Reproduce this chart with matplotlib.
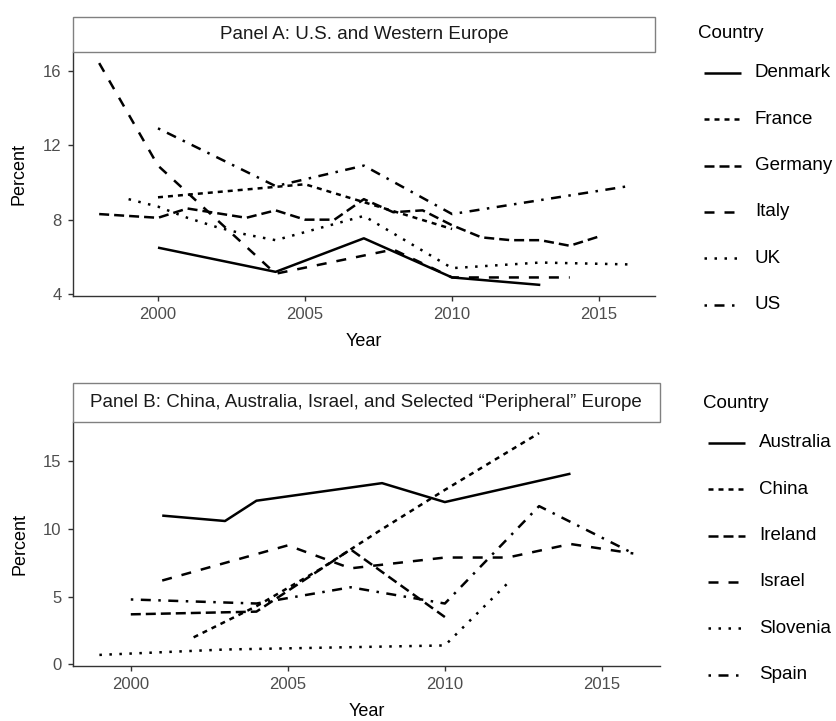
import numpy as np
import matplotlib
matplotlib.use("Agg")
import matplotlib.pyplot as plt
from matplotlib.lines import Line2D
from matplotlib.patches import Rectangle

plt.rcParams["font.family"] = ["Liberation Sans", "DejaVu Sans"]

# Panel A: U.S. and Western Europe
denmark_yr = [2000, 2004, 2007, 2010, 2013]
denmark_val = [6.5, 5.2, 7.0, 4.9, 4.5]
france_yr = [2000, 2005, 2010]
france_val = [9.2, 9.9, 7.5]
germany_yr = [1998, 2000, 2001, 2003, 2004, 2005, 2006, 2007, 2008, 2009, 2010, 2011, 2012, 2013, 2014, 2015]
germany_val = [8.3, 8.1, 8.6, 8.1, 8.5, 8.0, 8.0, 9.1, 8.4, 8.5, 7.7, 7.05, 6.9, 6.9, 6.6, 7.1]
italy_yr = [1998, 2000, 2004, 2008, 2010, 2012, 2014]
italy_val = [16.4, 10.9, 5.1, 6.4, 4.9, 4.9, 4.9]
uk_yr = [1999, 2000, 2001, 2002, 2003, 2004, 2007, 2010, 2013, 2016]
uk_val = [9.1, 8.7, 8.1, 7.6, 7.2, 6.9, 8.2, 5.4, 5.7, 5.6]
us_yr = [2000, 2004, 2007, 2010, 2016]
us_val = [12.9, 9.8, 10.9, 8.3, 9.8]

# Panel B: China, Australia, Israel, and Selected "Peripheral" Europe
australia_yr = [2001, 2003, 2004, 2008, 2010, 2014]
australia_val = [11.0, 10.6, 12.1, 13.4, 12.0, 14.1]
china_yr = [2002, 2004, 2006, 2008, 2010, 2013]
china_val = [2.0, 4.3, 7.0, 10.0, 12.9, 17.1]
ireland_yr = [2000, 2004, 2007, 2010]
ireland_val = [3.7, 3.9, 8.5, 3.5]
israel_yr = [2001, 2005, 2007, 2010, 2012, 2014, 2016]
israel_val = [6.2, 8.8, 7.1, 7.9, 7.9, 8.9, 8.2]
slovenia_yr = [1999, 2003, 2010, 2012]
slovenia_val = [0.7, 1.1, 1.4, 6.0]
spain_yr = [2000, 2004, 2007, 2010, 2013, 2016]
spain_val = [4.8, 4.5, 5.7, 4.5, 11.7, 8.2]

# ggplot default linetype palette
ltypes = [(0, ()), (0, (2, 2)), (0, (4, 2)), (0, (4, 4)), (0, (1, 3)), (0, (1, 3, 4, 3))]

panels = [
    dict(title="Panel A: U.S. and Western Europe",
         series=[("Denmark", denmark_yr, denmark_val), ("France", france_yr, france_val),
                 ("Germany", germany_yr, germany_val), ("Italy", italy_yr, italy_val),
                 ("UK", uk_yr, uk_val), ("US", us_yr, us_val)],
         yticks=[4, 8, 12, 16],
         box=(72.7, 655, 52, 296), strip=(17, 52), leg=(698, 704, 741, 755, 33, 72.7)),
    dict(title="Panel B: China, Australia, Israel, and Selected \u201cPeripheral\u201d Europe",
         series=[("Australia", australia_yr, australia_val), ("China", china_yr, china_val),
                 ("Ireland", ireland_yr, ireland_val), ("Israel", israel_yr, israel_val),
                 ("Slovenia", slovenia_yr, slovenia_val), ("Spain", spain_yr, spain_val)],
         yticks=[0, 5, 10, 15],
         box=(72.7, 660, 422, 666), strip=(383, 422), leg=(703, 708, 745, 759, 403, 442.7)),
]

W, H = 836, 721
fig = plt.figure(figsize=(W / 100, H / 100), dpi=100)
LW = 1.8
dark = "#333333"

for p in panels:
    x0, x1, ytop, ybot = p["box"]
    ax = fig.add_axes([x0 / W, 1 - ybot / H, (x1 - x0) / W, (ybot - ytop) / H])
    allx, ally = [], []
    for (name, yrs, vals), ls in zip(p["series"], ltypes):
        ax.plot(yrs, vals, color="black", lw=LW, linestyle=ls,
                dash_capstyle="butt", solid_capstyle="butt")
        allx += yrs
        ally += vals
    xr = max(allx) - min(allx)
    yr_ = max(ally) - min(ally)
    ax.set_xlim(min(allx) - 0.05 * xr, max(allx) + 0.05 * xr)
    ax.set_ylim(min(ally) - 0.05 * yr_, max(ally) + 0.05 * yr_)
    ax.set_xticks([2000, 2005, 2010, 2015])
    ax.set_yticks(p["yticks"])
    for s in ["top", "right"]:
        ax.spines[s].set_visible(False)
    for s in ["left", "bottom"]:
        ax.spines[s].set_color(dark)
        ax.spines[s].set_linewidth(1.0)
    ax.tick_params(length=3.5, width=1.0, color=dark, labelcolor="#4D4D4D",
                   labelsize=12, pad=4.5)
    ax.set_xlabel("Year", fontsize=13, color="black")
    ax.set_ylabel("Percent", fontsize=13, color="black")
    ax.yaxis.set_label_coords((28 - x0) / (x1 - x0), 0.5)
    ax.xaxis.set_label_coords(0.5, -37 / (ybot - ytop))

    # strip
    s0, s1 = p["strip"]
    fig.add_artist(Rectangle((x0 / W, 1 - s1 / H), (x1 - x0) / W, (s1 - s0) / H,
                             transform=fig.transFigure, facecolor="white",
                             edgecolor="#808080", lw=1.0))
    fig.text((x0 + x1) / 2 / W, 1 - (s0 + s1) / 2 / H, p["title"], ha="center",
             va="center", fontsize=13.5, color="#1A1A1A")

    # legend
    tx, lx0, lx1, labx, ty, y0 = p["leg"]
    fig.text(tx / W, 1 - ty / H, "Country", ha="left", va="center", fontsize=13.5)
    for i, ((name, _, _), ls) in enumerate(zip(p["series"], ltypes)):
        yy = 1 - (y0 + i * 46.4) / H
        fig.add_artist(Line2D([lx0 / W, lx1 / W], [yy, yy], transform=fig.transFigure,
                              color="black", lw=LW, linestyle=ls,
                              dash_capstyle="butt", solid_capstyle="butt"))
        fig.text(labx / W, yy, name, ha="left", va="center", fontsize=13.5)

fig.savefig("out.png", dpi=100)
